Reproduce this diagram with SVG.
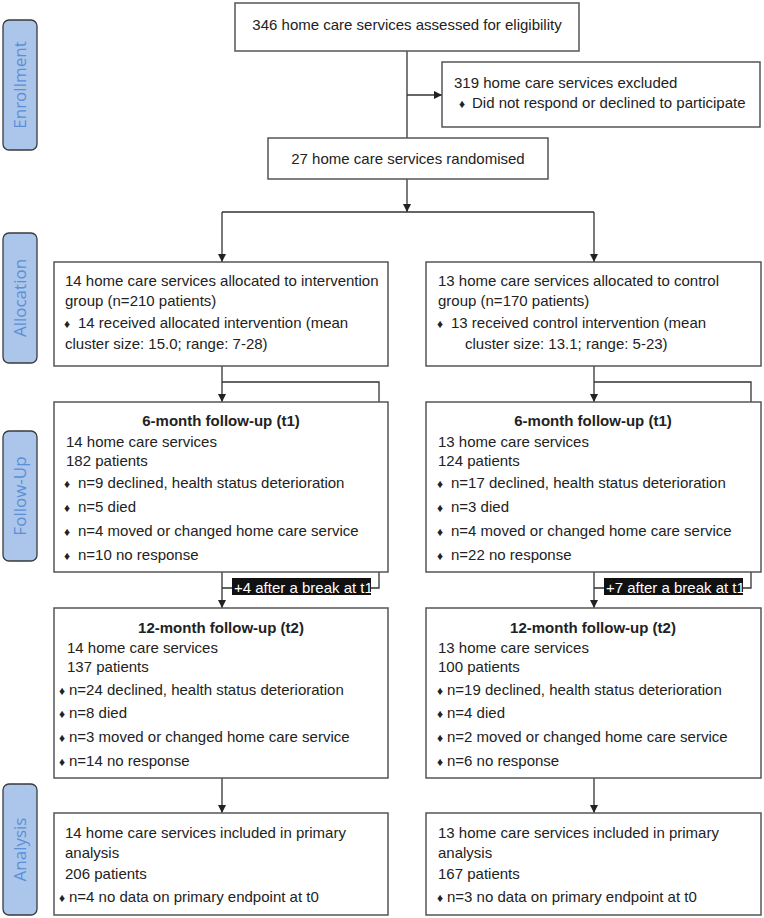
<svg xmlns="http://www.w3.org/2000/svg" width="764" height="918" viewBox="0 0 764 918">
<defs>
<marker id="ah" viewBox="0 0 10 10" refX="10" refY="5" markerWidth="8" markerHeight="8" markerUnits="userSpaceOnUse" orient="auto">
<path d="M0,0 L10,5 L0,10 z" fill="#222"/>
</marker>
<style>
.box{fill:#fff;stroke:#555;stroke-width:1.5}
.side{fill:#abc6ea;stroke:#3a3a3a;stroke-width:1.3}
.sidet{font-family:"Open Sans","Noto Sans",sans-serif;font-size:17px;fill:#5b8fd6;text-anchor:middle}
.t{font-family:"Liberation Sans",Arial,sans-serif;font-size:15px;fill:#222}
.b{font-weight:bold}
.c{text-anchor:middle}
.bl{font-size:12px;text-anchor:middle}
.con{fill:none;stroke:#333;stroke-width:1.3}
.lab{fill:#111}
.labt{font-family:"Liberation Sans",Arial,sans-serif;font-size:15px;fill:#fff}
</style>
</defs>
<rect width="764" height="918" fill="#fff"/>

<g id="side-enrollment"><rect class="side" x="3" y="20" width="34" height="130" rx="6"/><text class="sidet" transform="translate(26,85) rotate(-90)">Enrollment</text></g>
<g id="side-allocation"><rect class="side" x="3" y="233" width="34" height="130" rx="6"/><text class="sidet" transform="translate(26,298) rotate(-90)">Allocation</text></g>
<g id="side-followup"><rect class="side" x="3" y="431" width="34" height="130" rx="6"/><text class="sidet" transform="translate(26,496) rotate(-90)">Follow-Up</text></g>
<g id="side-analysis"><rect class="side" x="3" y="784" width="34" height="131" rx="6"/><text class="sidet" transform="translate(26,849.5) rotate(-90)">Analysis</text></g>

<g id="connectors">
<path class="con" d="M407,51 V138"/>
<path class="con" d="M407,95 H442" marker-end="url(#ah)"/>
<path class="con" d="M407,179 V212" marker-end="url(#ah)"/>
<path class="con" d="M222,212 H594"/>
<path class="con" d="M222,212 V262" marker-end="url(#ah)"/>
<path class="con" d="M594,212 V262" marker-end="url(#ah)"/>
<path class="con" d="M222,366 V402" marker-end="url(#ah)"/>
<path class="con" d="M222,382 H379 V402"/>
<path class="con" d="M594,366 V402" marker-end="url(#ah)"/>
<path class="con" d="M594,382 H751 V402"/>
<path class="con" d="M222,572 V608" marker-end="url(#ah)"/>
<path class="con" d="M222,588 H379 V572"/>
<path class="con" d="M594,572 V608" marker-end="url(#ah)"/>
<path class="con" d="M594,588 H751 V572"/>
<path class="con" d="M222,778 V813" marker-end="url(#ah)"/>
<path class="con" d="M594,778 V813" marker-end="url(#ah)"/>
<g id="label-left"><rect class="lab" x="232" y="578" width="139" height="17"/><text class="labt" x="234" y="593">+4 after a break at t1</text></g>
<g id="label-right"><rect class="lab" x="604" y="578" width="139" height="17"/><text class="labt" x="606" y="593">+7 after a break at t1</text></g>
</g>

<g id="n-assessed"><rect class="box" x="235" y="3" width="344" height="48"/><text class="t c" x="407" y="30">346 home care services assessed for eligibility</text></g>
<g id="n-excluded"><rect class="box" x="442" y="62" width="318" height="65"/><text class="t" x="454" y="88">319 home care services excluded</text><text class="t" y="108"><tspan class="bl" x="462">♦</tspan><tspan x="472">Did not respond or declined to participate</tspan></text></g>
<g id="n-randomised"><rect class="box" x="268" y="138" width="280" height="41"/><text class="t c" x="408" y="164">27 home care services randomised</text></g>

<g id="n-alloc-int"><rect class="box" x="54" y="262" width="334" height="104"/>
<text class="t" x="65" y="286">14 home care services allocated to intervention</text>
<text class="t" x="65" y="306">group (n=210 patients)</text>
<text class="t" y="328"><tspan class="bl" x="67">♦</tspan><tspan x="78">14 received allocated intervention (mean</tspan></text>
<text class="t" x="65" y="349">cluster size: 15.0; range: 7-28)</text></g>
<g id="n-alloc-ctl"><rect class="box" x="426" y="262" width="335" height="104"/>
<text class="t" x="438" y="286">13 home care services allocated to control</text>
<text class="t" x="438" y="306">group (n=170 patients)</text>
<text class="t" y="328"><tspan class="bl" x="440">♦</tspan><tspan x="451">13 received control intervention (mean</tspan></text>
<text class="t" x="465" y="349">cluster size: 13.1; range: 5-23)</text></g>

<g id="n-fu6-int"><rect class="box" x="54" y="402" width="334" height="170"/>
<text class="t b c" x="221" y="426">6-month follow-up (t1)</text>
<text class="t" x="66" y="447">14 home care services</text>
<text class="t" x="66" y="466">182 patients</text>
<text class="t" y="488"><tspan class="bl" x="67">♦</tspan><tspan x="78">n=9 declined, health status deterioration</tspan></text>
<text class="t" y="512"><tspan class="bl" x="67">♦</tspan><tspan x="78">n=5 died</tspan></text>
<text class="t" y="536"><tspan class="bl" x="67">♦</tspan><tspan x="78">n=4 moved or changed home care service</tspan></text>
<text class="t" y="560"><tspan class="bl" x="67">♦</tspan><tspan x="78">n=10 no response</tspan></text></g>
<g id="n-fu6-ctl"><rect class="box" x="426" y="402" width="335" height="170"/>
<text class="t b c" x="593" y="426">6-month follow-up (t1)</text>
<text class="t" x="438" y="447">13 home care services</text>
<text class="t" x="438" y="466">124 patients</text>
<text class="t" y="488"><tspan class="bl" x="440">♦</tspan><tspan x="451">n=17 declined, health status deterioration</tspan></text>
<text class="t" y="512"><tspan class="bl" x="440">♦</tspan><tspan x="451">n=3 died</tspan></text>
<text class="t" y="536"><tspan class="bl" x="440">♦</tspan><tspan x="451">n=4 moved or changed home care service</tspan></text>
<text class="t" y="560"><tspan class="bl" x="440">♦</tspan><tspan x="451">n=22 no response</tspan></text></g>

<g id="n-fu12-int"><rect class="box" x="54" y="608" width="334" height="170"/>
<text class="t b c" x="221" y="633">12-month follow-up (t2)</text>
<text class="t" x="67" y="653">14 home care services</text>
<text class="t" x="67" y="672">137 patients</text>
<text class="t" y="695"><tspan class="bl" x="62">♦</tspan><tspan x="69">n=24 declined, health status deterioration</tspan></text>
<text class="t" y="718"><tspan class="bl" x="62">♦</tspan><tspan x="69">n=8 died</tspan></text>
<text class="t" y="742"><tspan class="bl" x="62">♦</tspan><tspan x="69">n=3 moved or changed home care service</tspan></text>
<text class="t" y="766"><tspan class="bl" x="62">♦</tspan><tspan x="69">n=14 no response</tspan></text></g>
<g id="n-fu12-ctl"><rect class="box" x="426" y="608" width="335" height="170"/>
<text class="t b c" x="593" y="633">12-month follow-up (t2)</text>
<text class="t" x="438" y="653">13 home care services</text>
<text class="t" x="438" y="672">100 patients</text>
<text class="t" y="695"><tspan class="bl" x="440">♦</tspan><tspan x="447">n=19 declined, health status deterioration</tspan></text>
<text class="t" y="718"><tspan class="bl" x="440">♦</tspan><tspan x="447">n=4 died</tspan></text>
<text class="t" y="742"><tspan class="bl" x="440">♦</tspan><tspan x="447">n=2 moved or changed home care service</tspan></text>
<text class="t" y="766"><tspan class="bl" x="440">♦</tspan><tspan x="447">n=6 no response</tspan></text></g>

<g id="n-ana-int"><rect class="box" x="54" y="813" width="334" height="102"/>
<text class="t" x="65" y="838">14 home care services included in primary</text>
<text class="t" x="65" y="858">analysis</text>
<text class="t" x="65" y="879">206 patients</text>
<text class="t" y="902"><tspan class="bl" x="62">♦</tspan><tspan x="69">n=4 no data on primary endpoint at t0</tspan></text></g>
<g id="n-ana-ctl"><rect class="box" x="426" y="813" width="335" height="102"/>
<text class="t" x="438" y="838">13 home care services included in primary</text>
<text class="t" x="438" y="858">analysis</text>
<text class="t" x="438" y="879">167 patients</text>
<text class="t" y="902"><tspan class="bl" x="440">♦</tspan><tspan x="447">n=3 no data on primary endpoint at t0</tspan></text></g>
</svg>
